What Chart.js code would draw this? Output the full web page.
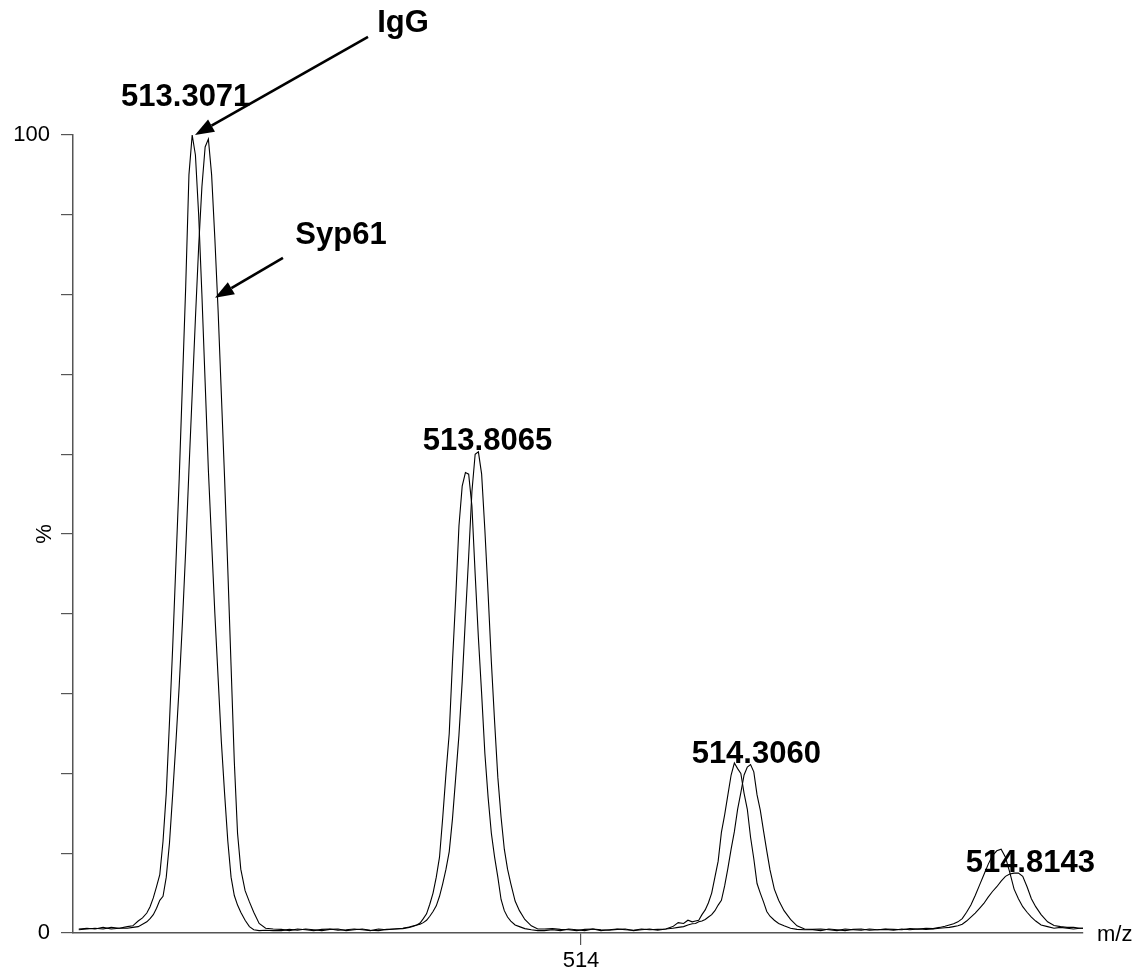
<!DOCTYPE html>
<html>
<head>
<meta charset="utf-8">
<script src="https://cdn.jsdelivr.net/npm/chart.js@4/dist/chart.umd.min.js"></script>
<style>
  html, body { margin: 0; padding: 0; background: #fff; }
  #wrap { width: 1139px; height: 976px; }
</style>
</head>
<body>
<div id="wrap"><canvas id="spec" width="1139" height="976"></canvas></div>
<script>
// m/z sampling points (shared by both traces)
const mz = [
  513.070, 513.085, 513.100, 513.115, 513.130, 513.145, 513.160, 513.170, 513.180, 513.188, 513.196, 513.202,
  513.208, 513.214, 513.220, 513.226, 513.232, 513.238, 513.244, 513.250, 513.256, 513.262, 513.268, 513.274,
  513.280, 513.286, 513.292, 513.298, 513.304, 513.310, 513.316, 513.322, 513.328, 513.334, 513.340, 513.346,
  513.352, 513.358, 513.364, 513.370, 513.378, 513.386, 513.394, 513.404, 513.416, 513.430,
  513.445, 513.460, 513.475, 513.490, 513.505, 513.520, 513.535, 513.550, 513.565, 513.580, 513.595, 513.610,
  513.625, 513.640, 513.655, 513.670, 513.682,
  513.690, 513.696, 513.702, 513.708, 513.714, 513.720, 513.726, 513.732, 513.738, 513.744, 513.750, 513.756,
  513.762, 513.768, 513.774, 513.780, 513.786, 513.792, 513.798, 513.804, 513.810, 513.816, 513.822, 513.828,
  513.834, 513.840, 513.846, 513.852, 513.858, 513.864, 513.870, 513.878, 513.886, 513.896, 513.908, 513.920, 513.932,
  513.947, 513.962, 513.977, 513.992, 514.007, 514.022, 514.037, 514.052, 514.067, 514.082, 514.097, 514.112,
  514.127, 514.142, 514.157, 514.170, 514.180, 514.190, 514.198, 514.206,
  514.212, 514.218, 514.224, 514.230, 514.236, 514.242, 514.248, 514.254, 514.260, 514.266, 514.272, 514.278,
  514.284, 514.290, 514.296, 514.302, 514.308, 514.314, 514.320, 514.326, 514.332, 514.338, 514.344, 514.350,
  514.358, 514.366, 514.376, 514.388, 514.400, 514.414,
  514.429, 514.444, 514.459, 514.474, 514.489, 514.504, 514.519, 514.534, 514.549, 514.564, 514.579, 514.594,
  514.609, 514.624, 514.639, 514.652, 514.664, 514.674,
  514.682, 514.690, 514.698, 514.706, 514.714, 514.722, 514.730, 514.738, 514.746, 514.754, 514.762, 514.770,
  514.778, 514.786, 514.794, 514.802, 514.810, 514.818, 514.826, 514.834, 514.842, 514.852, 514.864, 514.876,
  514.888, 514.900, 514.912, 514.924, 514.930
];

// relative intensity (%) - IgG trace
const igg = [
  0.4, 0.5, 0.6, 0.5, 0.7, 0.6, 0.8, 0.9, 1.5, 1.9, 2.5, 3.3,
  4.4, 5.8, 7.3, 11.5, 17.5, 26.5, 36, 46.5, 57, 69, 81, 95,
  100, 97.5, 90, 80, 69, 58, 49, 40, 32, 24, 17.5, 11.5,
  7, 4.7, 3.5, 2.6, 1.6, 0.8, 0.4, 0.3, 0.35, 0.3,
  0.3, 0.45, 0.35, 0.5, 0.4, 0.3, 0.45, 0.5, 0.3, 0.4, 0.5, 0.35,
  0.3, 0.45, 0.5, 0.55, 0.7,
  0.85, 1.0, 1.25, 1.8, 2.4, 3.6, 5, 7, 9.5, 14.5, 20, 25,
  34, 42, 51, 56, 57.7, 57.5, 53.5, 45, 37, 30, 22.5, 17,
  12.5, 9.5, 7, 4.2, 2.8, 2, 1.5, 1.0, 0.8, 0.55, 0.4, 0.3, 0.3,
  0.4, 0.3, 0.5, 0.4, 0.3, 0.5, 0.4, 0.35, 0.45, 0.5, 0.3, 0.4,
  0.5, 0.35, 0.5, 0.8, 1.3, 1.2, 1.6, 1.4,
  1.5, 1.6, 2.3, 2.9, 3.8, 5, 7, 9, 12.6, 14.8, 17.3, 19.8,
  21.3, 20.6, 20, 17.5, 15.5, 12, 9.3, 6.2, 5, 3.9, 2.7, 2.1,
  1.6, 1.2, 0.9, 0.6, 0.45, 0.4,
  0.4, 0.3, 0.5, 0.4, 0.3, 0.45, 0.5, 0.35, 0.4, 0.5, 0.45, 0.4,
  0.55, 0.5, 0.6, 0.55, 0.7, 0.85,
  1.0, 1.15, 1.4, 1.8, 2.6, 3.5, 4.7, 6.0, 7.3, 8.6, 9.7, 10.3,
  10.5, 9.5, 7.6, 5.5, 4.3, 3.3, 2.6, 2.0, 1.5, 1.0, 0.8, 0.6,
  0.7, 0.6, 0.5, 0.6, 0.6
];

// relative intensity (%) - Syp61 trace
const syp61 = [
  0.5, 0.6, 0.5, 0.7, 0.5, 0.6, 0.6, 0.7, 0.8, 1.1, 1.4, 1.8,
  2.3, 3.1, 4.1, 4.6, 7, 11.3, 17.5, 24, 31, 39, 48, 58,
  67.5, 77, 86, 93.5, 98.5, 99.5, 95, 87, 78, 67.5, 57, 45.5,
  33.5, 21.5, 12.5, 8, 5.3, 3.9, 2.6, 1.2, 0.6, 0.5,
  0.45, 0.3, 0.5, 0.4, 0.3, 0.45, 0.5, 0.35, 0.4, 0.5, 0.4, 0.3,
  0.5, 0.4, 0.5, 0.6, 0.75,
  0.9, 1.0, 1.1, 1.3, 1.6, 2.1, 2.7, 3.4, 4.6, 6.2, 8, 10.2,
  14.3, 19.5, 24.8, 31.5, 39.5, 47.2, 55.3, 60, 60.3, 57.5, 50.5, 42.5,
  34, 26.5, 19.5, 14.5, 10.5, 8, 6.2, 4, 2.8, 1.7, 0.9, 0.5, 0.5,
  0.55, 0.45, 0.4, 0.3, 0.45, 0.5, 0.3, 0.4, 0.5, 0.4, 0.35, 0.5,
  0.4, 0.45, 0.5, 0.6, 0.7, 0.8, 1.0, 1.15,
  1.2, 1.4, 1.5, 1.7, 2.0, 2.3, 2.8, 3.5, 4.1, 5.9, 8.1, 10.5,
  12.7, 15.5, 17.6, 19.8, 20.8, 21.1, 20.2, 17.3, 15.4, 12.8, 10.3, 7.9,
  5.5, 4.1, 2.8, 1.7, 0.9, 0.5,
  0.45, 0.5, 0.4, 0.3, 0.5, 0.4, 0.35, 0.5, 0.4, 0.45, 0.35, 0.5,
  0.4, 0.5, 0.45, 0.5, 0.6, 0.65,
  0.7, 0.8, 0.9, 1.1, 1.5, 2.0, 2.5, 3.1, 3.7, 4.5, 5.2, 5.8,
  6.5, 7.1, 7.4, 7.5, 7.5, 7.1, 5.8, 4.3, 3.3, 2.3, 1.4, 0.95,
  0.8, 0.7, 0.7, 0.6, 0.6
];

const xTicks = [514];
const yLabelled = [0, 100];

// peak labels: text, anchor m/z (text centre), anchor % (baseline)
const peakText = ['513.3071', '513.8065', '514.3060', '514.8143'];
const peakAtMz = [513.2680, 513.8269, 514.3246, 514.8320];
const peakAtPct = [103.6, 60.5, 21.3, 7.6];

// trace names with arrows: [from mz, from %, to mz, to %]
const tagText = ['IgG', 'Syp61'];
const tagAtMz = [513.6704, 513.5556];
const tagAtPct = [112.9, 86.3];
const arrowFrom = [[513.6056, 112.3], [513.4481, 84.6]];
const arrowTo = [[513.2852, 100.0], [513.3222, 79.6]];

const FONT = '"Liberation Sans", Arial, sans-serif';

function toPts(vals) {
  return mz.map((m, i) => ({ x: m, y: vals[i] }));
}

function arrow(ctx, x1, y1, x2, y2) {
  const ang = Math.atan2(y2 - y1, x2 - x1);
  const len = 19, half = 7;
  const bx = x2 - len * Math.cos(ang), by = y2 - len * Math.sin(ang);
  ctx.beginPath();
  ctx.moveTo(x1, y1);
  ctx.lineTo(bx, by);
  ctx.lineWidth = 2.6;
  ctx.stroke();
  ctx.beginPath();
  ctx.moveTo(x2, y2);
  ctx.lineTo(bx + half * Math.sin(ang), by - half * Math.cos(ang));
  ctx.lineTo(bx - half * Math.sin(ang), by + half * Math.cos(ang));
  ctx.closePath();
  ctx.fill();
}

const notes = {
  id: 'notes',
  afterDraw(chart) {
    const ctx = chart.ctx;
    const xs = chart.scales.x, ys = chart.scales.y;
    ctx.save();
    ctx.fillStyle = '#000';
    ctx.strokeStyle = '#000';
    ctx.textBaseline = 'alphabetic';

    ctx.font = 'bold 31px ' + FONT;
    ctx.textAlign = 'center';
    peakText.forEach((t, i) => {
      ctx.fillText(t, xs.getPixelForValue(peakAtMz[i]), ys.getPixelForValue(peakAtPct[i]));
    });
    tagText.forEach((t, i) => {
      ctx.fillText(t, xs.getPixelForValue(tagAtMz[i]), ys.getPixelForValue(tagAtPct[i]));
    });
    arrowFrom.forEach((f, i) => {
      const t = arrowTo[i];
      arrow(ctx, xs.getPixelForValue(f[0]), ys.getPixelForValue(f[1]),
        xs.getPixelForValue(t[0]), ys.getPixelForValue(t[1]));
    });

    // axis names
    ctx.font = '22px ' + FONT;
    ctx.textAlign = 'left';
    ctx.fillText('m/z', xs.right + 14, ys.bottom + 8);
    ctx.translate(xs.left - 28, ys.getPixelForValue(50));
    ctx.rotate(-Math.PI / 2);
    ctx.textAlign = 'center';
    ctx.textBaseline = 'middle';
    ctx.fillText('%', 0, 0);
    ctx.restore();
  }
};

new Chart(document.getElementById('spec'), {
  type: 'scatter',
  data: {
    datasets: [
      { label: 'IgG', data: toPts(igg), showLine: true, borderColor: '#000', borderWidth: 1.1, pointRadius: 0 },
      { label: 'Syp61', data: toPts(syp61), showLine: true, borderColor: '#000', borderWidth: 1.1, pointRadius: 0 }
    ]
  },
  options: {
    responsive: false,
    animation: false,
    layout: { padding: { top: 135, right: 56, left: 0, bottom: 0 } },
    plugins: { legend: { display: false }, tooltip: { enabled: false } },
    scales: {
      x: {
        type: 'linear',
        min: 513.0593,
        max: 514.9296,
        border: { color: '#555', width: 1.5 },
        grid: { drawOnChartArea: false, tickLength: 12, color: '#555', lineWidth: 1.2 },
        ticks: { color: '#000', font: { family: FONT, size: 22 }, padding: 3 },
        afterBuildTicks: s => { s.ticks = xTicks.map(v => ({ value: v })); },
        afterFit: s => { s.height = 43; }
      },
      y: {
        min: 0,
        max: 100,
        border: { color: '#555', width: 1.5 },
        grid: { drawOnChartArea: false, tickLength: 12, color: '#555', lineWidth: 1.2 },
        ticks: {
          stepSize: 10,
          color: '#000',
          font: { family: FONT, size: 22 },
          padding: 11,
          autoSkip: false,
          callback: v => (yLabelled.includes(v) ? String(v) : '')
        },
        afterFit: s => { s.width = 73; }
      }
    }
  },
  plugins: [notes]
});
</script>
</body>
</html>
